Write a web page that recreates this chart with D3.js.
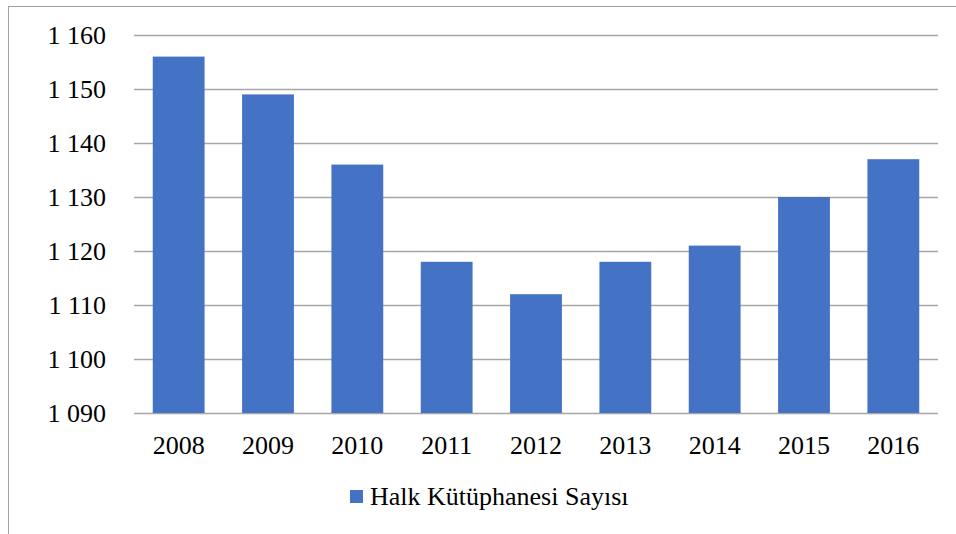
<!DOCTYPE html>
<html>
<head>
<meta charset="utf-8">
<script src="https://cdn.jsdelivr.net/npm/d3@7"></script>
<style>
  body { margin: 0; background: #fff; }
  svg { display: block; font-family: "Liberation Serif", "Times New Roman", serif; }
</style>
</head>
<body>
<svg width="956" height="534"></svg>
<script>
var years = ["2008","2009","2010","2011","2012","2013","2014","2015","2016"];
var counts = [1156,1149,1136,1118,1112,1118,1121,1130,1137];
var ticks = [1090,1100,1110,1120,1130,1140,1150,1160];
var seriesName = "Halk Kütüphanesi Sayısı";

var svg = d3.select("svg");
var plotLeft = 134, plotRight = 938, plotTop = 35, plotBottom = 413;

// chart frame (only top and left edges show)
svg.append("rect")
    .attr("x", 8.5).attr("y", 6.5)
    .attr("width", 1000).attr("height", 600)
    .attr("fill", "none").attr("stroke", "#a0a0a0");

var x = d3.scaleBand().domain(years).range([plotLeft, plotRight]).paddingInner(0.42).paddingOuter(0.21);
var y = d3.scaleLinear().domain([1090, 1160]).range([plotBottom, plotTop]);

var fmt = function(d){ return d3.format(",")(d).replace(",", " "); };

svg.selectAll("line.grid").data(ticks).enter().append("line")
    .attr("class","grid")
    .attr("x1", plotLeft).attr("x2", plotRight)
    .attr("y1", function(d){return Math.round(y(d)) + 0.5;})
    .attr("y2", function(d){return Math.round(y(d)) + 0.5;})
    .attr("stroke", "#a6a6a6").attr("stroke-width", 1.3);

svg.selectAll("rect.bar").data(counts).enter().append("rect")
    .attr("class","bar")
    .attr("x", function(d,i){return x(years[i]);})
    .attr("y", function(d){return y(d);})
    .attr("width", x.bandwidth())
    .attr("height", function(d){return y(1090) - y(d);})
    .attr("fill", "#4472c4");

svg.selectAll("text.ytick").data(ticks).enter().append("text")
    .attr("class","ytick")
    .attr("x", 106)
    .attr("y", function(d){return y(d) + 9;})
    .attr("text-anchor", "end")
    .attr("font-size", 26)
    .text(fmt);

svg.selectAll("text.xtick").data(years).enter().append("text")
    .attr("class","xtick")
    .attr("x", function(d){return x(d) + x.bandwidth()/2;})
    .attr("y", 454)
    .attr("text-anchor", "middle")
    .attr("font-size", 26)
    .text(function(d){return d;});

var legend = svg.append("g");
legend.append("rect")
    .attr("x", 350).attr("y", 490).attr("width", 13).attr("height", 13)
    .attr("fill", "#4472c4");
legend.append("text")
    .attr("x", 370).attr("y", 505)
    .attr("font-size", 26)
    .text(seriesName);
</script>
</body>
</html>
